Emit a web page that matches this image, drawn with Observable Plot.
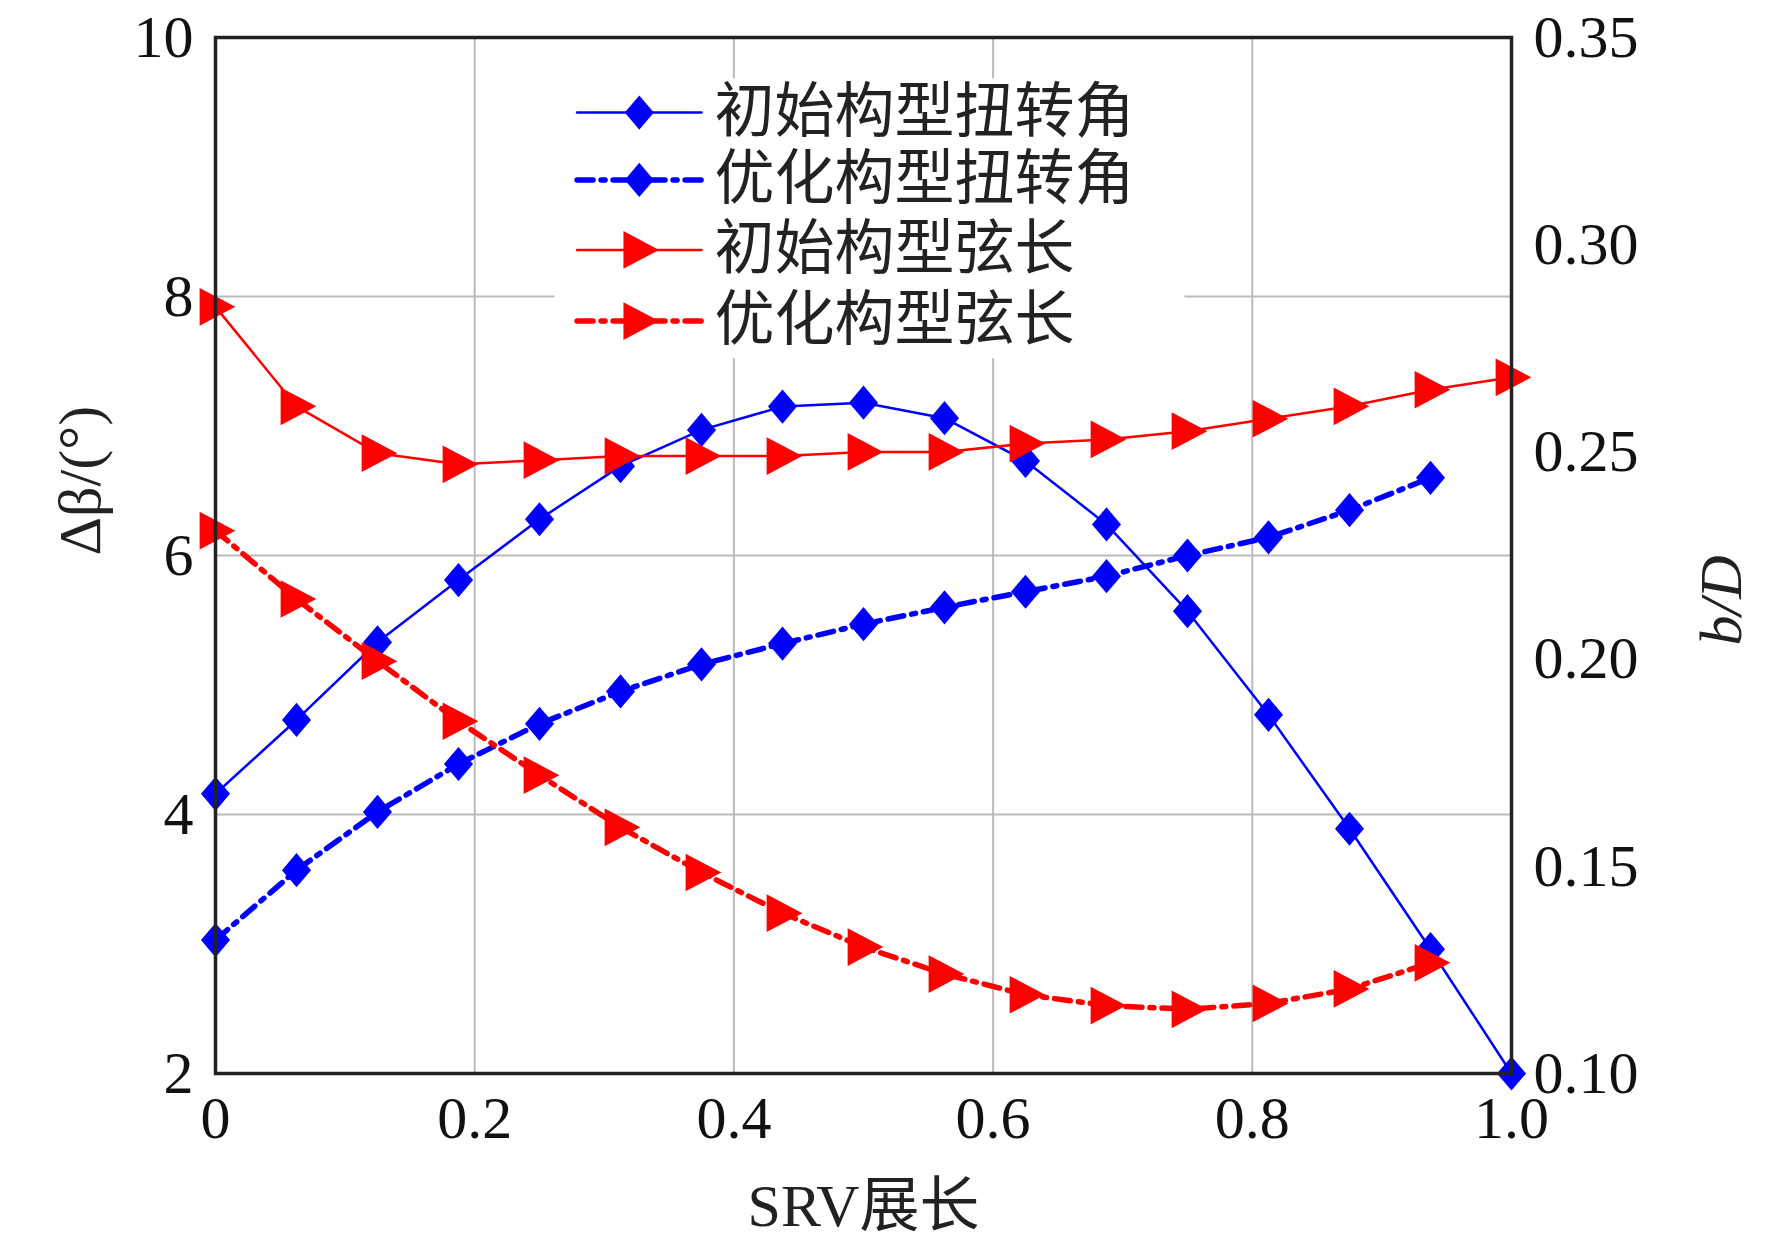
<!DOCTYPE html>
<html><head><meta charset="utf-8">
<script src="https://cdn.jsdelivr.net/npm/d3@7"></script>
<script src="https://cdn.jsdelivr.net/npm/@observablehq/plot@0.6"></script>
<style>body{margin:0;background:#fff}</style>
</head><body><div id="c"></div>
<script>
const span = [0,0.0625,0.125,0.1875,0.25,0.3125,0.375,0.4375,0.5,0.5625,0.625,0.6875,0.75,0.8125,0.875,0.9375,1.0];
const twistInit = [4.16,4.73,5.33,5.81,6.28,6.69,6.97,7.15,7.18,7.06,6.73,6.24,5.57,4.77,3.89,2.96,2.0];
const twistOpt = [3.03,3.57,4.02,4.39,4.70,4.95,5.16,5.32,5.47,5.60,5.72,5.84,6.00,6.14,6.35,6.60];
const chordInit = [0.285,0.261,0.2497,0.247,0.248,0.249,0.249,0.249,0.250,0.250,0.252,0.253,0.255,0.258,0.261,0.265,0.268];
const chordOpt = [0.231,0.2145,0.1995,0.185,0.172,0.1594,0.1485,0.1387,0.1305,0.124,0.119,0.1164,0.1155,0.1169,0.1204,0.1267];
const leftTicks = [2,4,6,8,10];
const rightTicks = [0.10,0.15,0.20,0.25,0.30,0.35];
const xTicks = [0,0.2,0.4,0.6,0.8,1.0];
const legendNames = ["初始构型扭转角","优化构型扭转角","初始构型弦长","优化构型弦长"];

const toL = b => 2 + (b - 0.1) / 0.25 * 8;
const fromL = v => 0.1 + (v - 2) / 8 * 0.25;
const tri = {draw(ctx, size){ const r = Math.sqrt(size)/1.25; ctx.moveTo(r,0); ctx.lineTo(-r*0.8,-r*0.95); ctx.lineTo(-r*0.8,r*0.95); ctx.closePath(); }};
const dia = {draw(ctx, size){ const r = Math.sqrt(size)/1.45; const w = r*0.85; ctx.moveTo(0,-r); ctx.lineTo(w,0); ctx.lineTo(0,r); ctx.lineTo(-w,0); ctx.closePath(); }};

const mk = (xs, ys) => ys.map((y,i)=>({x:xs[i], y}));
const sI = mk(span, twistInit), sO = mk(span, twistOpt);
const cI = mk(span, chordInit.map(toL)), cO = mk(span, chordOpt.map(toL));
const dashDot = "16,8,4,8";
const styles = [
  {stroke:"#0000ff", w:2.5, dash:null, sym:dia, r:14},
  {stroke:"#0000ff", w:5.5, dash:dashDot, sym:dia, r:14},
  {stroke:"#ff0000", w:2.5, dash:null, sym:tri, r:14},
  {stroke:"#ff0000", w:5.5, dash:dashDot, sym:tri, r:14}
];
const series = [sI, sO, cI, cO];
const marks = [
  Plot.gridX(xTicks, {stroke:"#bbb", strokeOpacity:1, strokeWidth:2}),
  Plot.gridY(leftTicks, {stroke:"#bbb", strokeOpacity:1, strokeWidth:2}),
];
series.forEach((d,k)=>{
  const s = styles[k];
  marks.push(Plot.line(d, {x:"x", y:"y", stroke:s.stroke, strokeWidth:s.w, strokeDasharray:s.dash}));
  marks.push(Plot.dot(d, {x:"x", y:"y", symbol:()=>s.sym, fill:s.stroke, stroke:"none", r:s.r}));
});
const legY = [9.42, 8.90, 8.36, 7.81];
marks.push(Plot.rect([{x1:0.262,x2:0.748,y1:7.52,y2:9.68}], {x1:"x1",x2:"x2",y1:"y1",y2:"y2",fill:"white"}));
legendNames.forEach((n,k)=>{
  const s = styles[k];
  marks.push(Plot.line([{x:0.279,y:legY[k]},{x:0.375,y:legY[k]}], {x:"x",y:"y",stroke:s.stroke,strokeWidth:s.w,strokeDasharray:s.dash}));
  marks.push(Plot.dot([{x:0.327,y:legY[k]}], {x:"x",y:"y",symbol:()=>s.sym,fill:s.stroke,stroke:"none",r:s.r}));
  marks.push(Plot.text([n], {x:0.385,y:legY[k],text:d=>d,textAnchor:"start",fontSize:60,fill:"#222",fontFamily:"Noto Sans CJK SC"}));
});
marks.push(Plot.frame({stroke:"#222", strokeWidth:3.5}));
marks.push(Plot.axisX(xTicks, {tickSize:0, tickPadding:22, fontSize:60, tickFormat:d=> d===0?"0":d.toFixed(1), label:null}));
marks.push(Plot.axisY(leftTicks, {anchor:"left", tickSize:0, tickPadding:22, fontSize:60, tickFormat:d=>String(d), label:null}));
marks.push(Plot.axisY(rightTicks.map(toL), {anchor:"right", tickSize:0, tickPadding:22, fontSize:60, tickFormat:d=>fromL(d).toFixed(2), label:null}));
marks.push(Plot.text(["SRV展长"], {frameAnchor:"bottom", dy:152, fontSize:60, fill:"#222", text:d=>d}));
marks.push(Plot.text(["Δβ/(°)"], {frameAnchor:"left", dx:-135, rotate:-90, fontSize:60, fill:"#222", text:d=>d}));
marks.push(Plot.text(["b/D"], {frameAnchor:"right", dx:210, rotate:-90, fontSize:60, fontStyle:"italic", fill:"#222", text:d=>d}));

const chart = Plot.plot({
  width:1772, height:1250,
  marginLeft:215, marginRight:261, marginTop:37, marginBottom:177,
  x:{domain:[0,1]}, y:{domain:[2,10]},
  style:{fontFamily:"Liberation Serif, Noto Sans CJK SC", color:"#111", background:"#fff"},
  marks
});
document.getElementById("c").appendChild(chart);
</script></body></html>
